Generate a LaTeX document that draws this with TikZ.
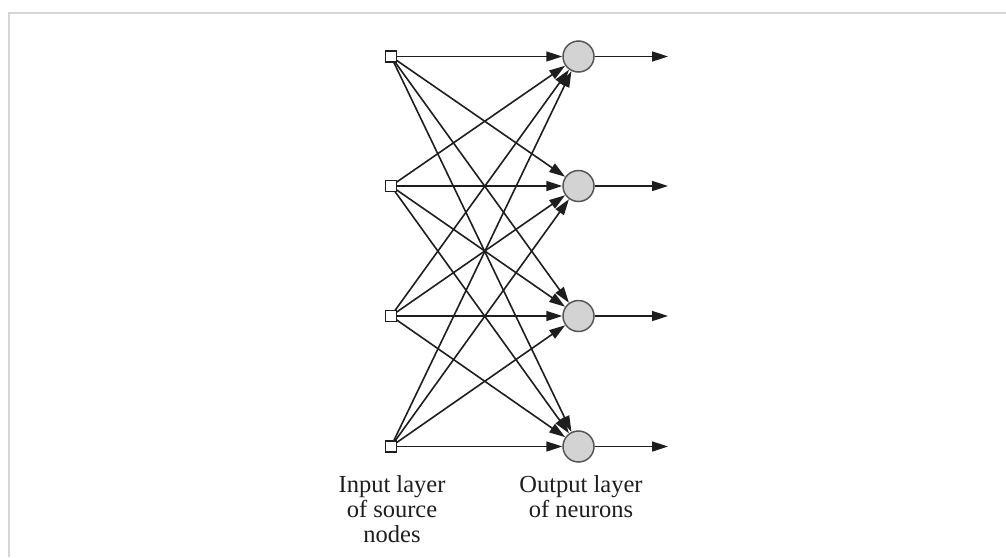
\documentclass[tikz,border=0pt]{standalone}
\usepackage{fontspec}
\setmainfont{Liberation Serif}
\usetikzlibrary{arrows.meta}
\definecolor{framegray}{HTML}{D6D6D6}
\definecolor{neuronfill}{HTML}{D3D3D3}
\definecolor{inkdark}{HTML}{1E1E1E}
\begin{document}
\begin{tikzpicture}[x=1pt,y=-1pt,
  source/.style={draw=inkdark, fill=white, line width=1.5pt, minimum size=11pt, inner sep=0pt, rectangle},
  neuron/.style={draw=inkdark!75, fill=neuronfill, line width=1.5pt, circle, minimum size=31pt, inner sep=0pt},
  edge/.style={draw=inkdark, line width=1.6pt, -{Triangle[length=16pt,width=10pt]}},
  caption/.style={align=center, inner sep=0pt, anchor=north, font=\fontsize{24.5}{25}\selectfont, text=inkdark}]
  \useasboundingbox (0,0) rectangle (1006,557);
  % light frame along the top and left edges
  \draw[framegray, line width=2pt] (9,557) -- (9,13) -- (1006,13);

  % output neurons and the end points of their outgoing arrows
  \foreach \j/\y in {1/56.5, 2/186, 3/316, 4/446.5} {
    \node[neuron] (out\j) at (578.5,\y) {};
    \coordinate (tip\j) at (668,\y);
  }
  % fully connected links from every source node to every neuron
  \foreach \i/\y in {1/56.5, 2/186, 3/316, 4/446.5} {
    \coordinate (in\i) at (391,\y);
    \foreach \j in {1,...,4}
      \draw[edge] (in\i) -- (out\j);
  }
  % source nodes drawn on top of the link origins
  \foreach \i/\y in {1/56.5, 2/186, 3/316, 4/446.5}
    \node[source] (src\i) at (391,\y) {};
  \foreach \j in {1,...,4}
    \draw[edge] (out\j) -- (tip\j);

  % layer captions
  \node[caption] (capin) at (392,475) {Input layer\\of source\\nodes};
  \node[caption] (capout) at (581,475) {Output layer\\of neurons};
\end{tikzpicture}
\end{document}
